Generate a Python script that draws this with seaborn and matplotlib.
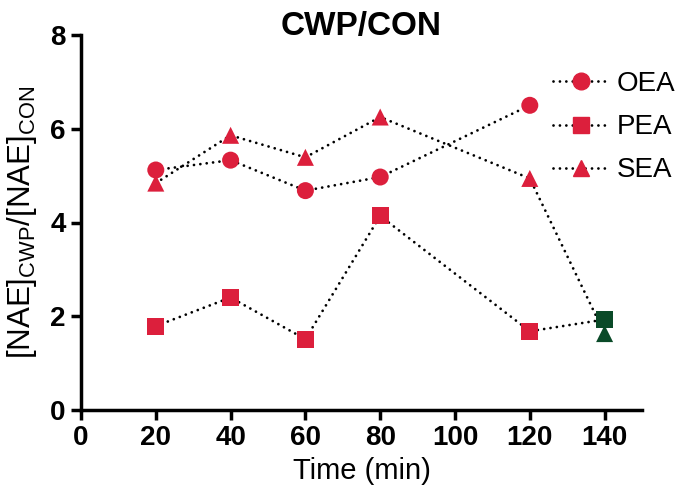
import matplotlib
matplotlib.use("Agg")
import matplotlib.pyplot as plt
import numpy as np
import pandas as pd
import seaborn as sns
from matplotlib.lines import Line2D

# Data
times = [20, 40, 60, 80, 120, 140]
oea = [5.12, 5.33, 4.68, 4.97, 6.50, np.nan]
pea = [1.79, 2.40, 1.51, 4.14, 1.68, 1.93]
sea = [4.84, 5.86, 5.39, 6.25, 4.94, 1.63]
compounds = ["OEA", "PEA", "SEA"]
late_time = 140  # last time point drawn in green

red = "#dc1f3c"
green = "#0a4a28"
markers = {"OEA": "o", "PEA": "s", "SEA": "^"}

rows = []
for name, vals in zip(compounds, [oea, pea, sea]):
    for t, v in zip(times, vals):
        rows.append({"time": t, "value": v, "compound": name})
df = pd.DataFrame(rows).dropna()

sns.set_style("ticks")
plt.rcParams["font.family"] = ["Liberation Sans", "DejaVu Sans"]
plt.rcParams["mathtext.fontset"] = "custom"
plt.rcParams["mathtext.rm"] = "Liberation Sans"
plt.rcParams["mathtext.it"] = "Liberation Sans:italic"
plt.rcParams["mathtext.bf"] = "Liberation Sans:bold"
plt.rcParams["text.color"] = "black"
plt.rcParams["axes.labelcolor"] = "black"
plt.rcParams["axes.edgecolor"] = "black"
plt.rcParams["xtick.color"] = "black"
plt.rcParams["ytick.color"] = "black"

fig = plt.figure(figsize=(6.8, 5.03), dpi=100)
ax = fig.add_axes([81 / 680, 1 - 410 / 503, (642 - 81) / 680, (410 - 35) / 503])

dots = (0, (0.01, 2.3))
for name in compounds:
    sub = df[df["compound"] == name]
    sns.lineplot(data=sub, x="time", y="value", color="black", lw=2.0,
                 linestyle=dots, sort=False, ax=ax, legend=False)
    ax.lines[-1].set_dash_capstyle("round")

early = df[df["time"] < late_time]
late = df[df["time"] >= late_time]
sns.scatterplot(data=early, x="time", y="value", style="compound", markers=markers,
                color=red, s=150, linewidth=0, legend=False, ax=ax, zorder=3)
sns.scatterplot(data=late, x="time", y="value", style="compound", markers=markers,
                color=green, s=150, linewidth=0, legend=False, ax=ax, zorder=3)

ax.set_xlim(0, 150)
ax.set_ylim(0, 8)
ax.set_xticks(range(0, 141, 20))
ax.set_yticks(range(0, 9, 2))
sns.despine(ax=ax)
for s in ["left", "bottom"]:
    ax.spines[s].set_linewidth(2.5)
ax.tick_params(length=7, width=2.5, labelsize=20, pad=4, colors="black")
for lab in ax.get_xticklabels() + ax.get_yticklabels():
    lab.set_fontweight("bold")

ax.set_xlabel("Time (min)", fontsize=21, labelpad=4)
ax.set_ylabel(r"[NAE]$_{\mathrm{CWP}}$/[NAE]$_{\mathrm{CON}}$", fontsize=22.5, labelpad=8)
fig.text(361 / 680, 1 - 26 / 503, "CWP/CON", fontsize=24, fontweight="bold",
         ha="center", va="center")

handles = [Line2D([], [], color="black", lw=2.0, linestyle=dots, marker=markers[c],
                  markerfacecolor=red, markeredgecolor=red, markersize=12)
           for c in compounds]
for h in handles:
    h.set_dash_capstyle("round")
leg = fig.legend(handles, compounds, loc="upper left",
                 bbox_to_anchor=(553 / 680, 1 - 71 / 503), frameon=False,
                 fontsize=20, handlelength=2.0, handletextpad=0.3,
                 labelspacing=0.62, borderpad=0, borderaxespad=0)

fig.savefig("out.png", dpi=100)
